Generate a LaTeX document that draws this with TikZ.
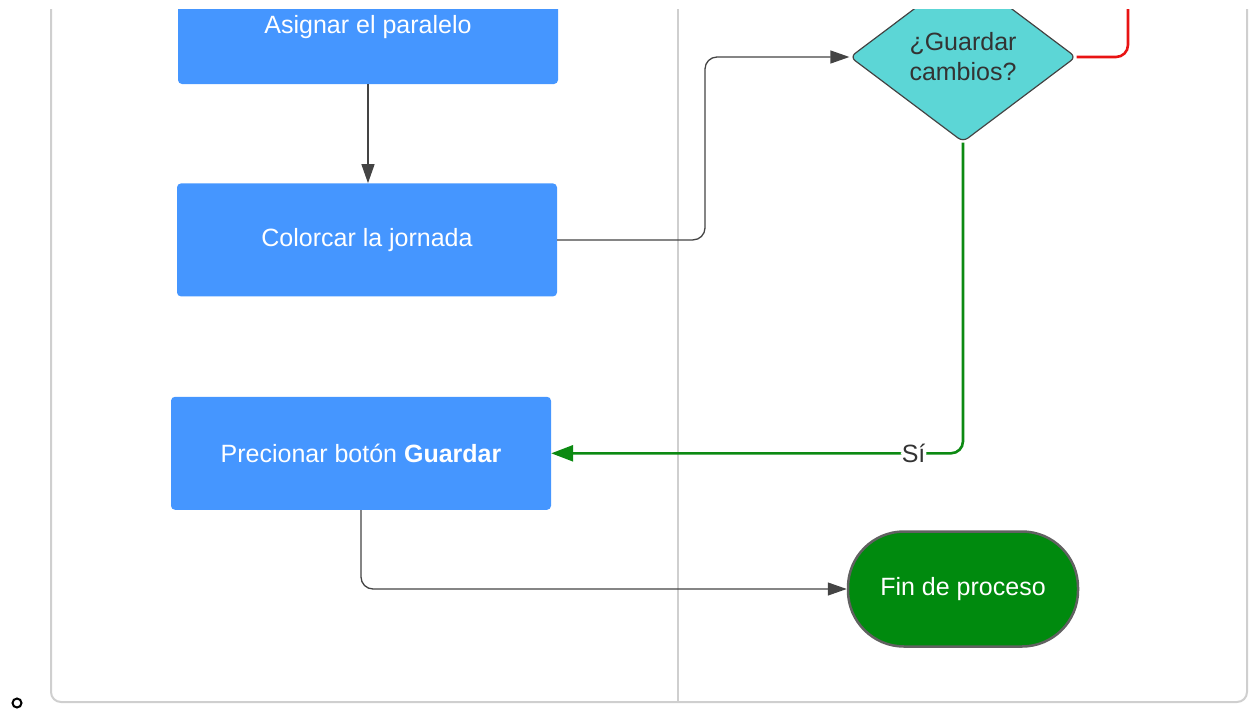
\documentclass[tikz,border=0pt]{standalone}
\usepackage{fontspec}
\setsansfont{Liberation Sans}
\usepackage{tikz}
\usetikzlibrary{positioning, arrows.meta, shapes.geometric, calc}

\definecolor{boxblue}{HTML}{4596FF}
\definecolor{decteal}{HTML}{5CD6D6}
\definecolor{endgreen}{HTML}{008A0E}
\definecolor{linegray}{HTML}{444444}
\definecolor{framegray}{HTML}{CFCFCF}
\definecolor{noRed}{HTML}{E81313}
\definecolor{siGreen}{HTML}{0C8A12}

\begin{document}
\begin{tikzpicture}[
  x=1pt, y=-1pt,
  font=\sffamily\fontsize{25}{30}\selectfont,
  box/.style={fill=boxblue, rounded corners=4pt, minimum width=380pt,
    minimum height=113pt, align=center, text=white, inner sep=0pt},
  decision/.style={diamond, draw=linegray, line width=1.2pt, fill=decteal, rounded corners=6pt,
    minimum width=226pt, minimum height=170pt, aspect=1.33, inner sep=0pt,
    align=center, text=black!80},
  terminal/.style={draw=black!62, line width=2.5pt, fill=endgreen, rounded corners=56pt,
    minimum width=230pt, minimum height=115pt, text=white},
  arrow/.style={-{Triangle[length=19pt, width=13pt]}, linegray, line width=1.3pt,
    rounded corners=12pt},
  yesarrow/.style={-{Triangle[length=22pt, width=16pt]}, siGreen, line width=2.6pt,
    rounded corners=12pt},
  noline/.style={noRed, line width=2.6pt, rounded corners=12pt},
  frame/.style={framegray, line width=2pt, rounded corners=10pt},
  tag/.style={fill=white, inner sep=1pt, text=black!80},
]
  \useasboundingbox (0,0) rectangle (1255,713);
  \clip (0,9) rectangle (1255,713);

  % swimlane frame
  \draw[frame] (51,-40) -- (51,702) -- (1247,702) -- (1247,-40);
  \draw[framegray, line width=2pt] (678,-40) -- (678,702);

  % left lane
  \node[box] (asignar) at (368,27.5) {Asignar el paralelo};
  \node[box, below=99pt of asignar.south, anchor=north, xshift=-1pt] (colorcar) {Colorcar la jornada};
  \node[box, below=100pt of colorcar.south, anchor=north, xshift=-6pt] (precionar)
    {Precionar botón \textbf{Guardar}};

  % right lane
  \node[decision] (guardar) at (963,57) {¿Guardar\\cambios?};
  \node[terminal] (fin) at (963,589) {Fin de proceso};

  \coordinate (bendA) at (705,0);
  \coordinate (noEnd) at (1128,-40);

  \draw[arrow] (asignar.south) -- (asignar.south |- colorcar.north);
  \draw[arrow] (colorcar.east) -- (colorcar.east -| bendA) |- (guardar.west);
  \draw[noline] (guardar.east) -| (noEnd);
  \draw[yesarrow] (guardar.south) |- node[tag, pos=0.56] {Sí} (precionar.east);
  \draw[arrow] (precionar.south) |- (fin.west);

  \draw[black, line width=2pt] (17,703) circle (4.5pt);
\end{tikzpicture}
\end{document}
